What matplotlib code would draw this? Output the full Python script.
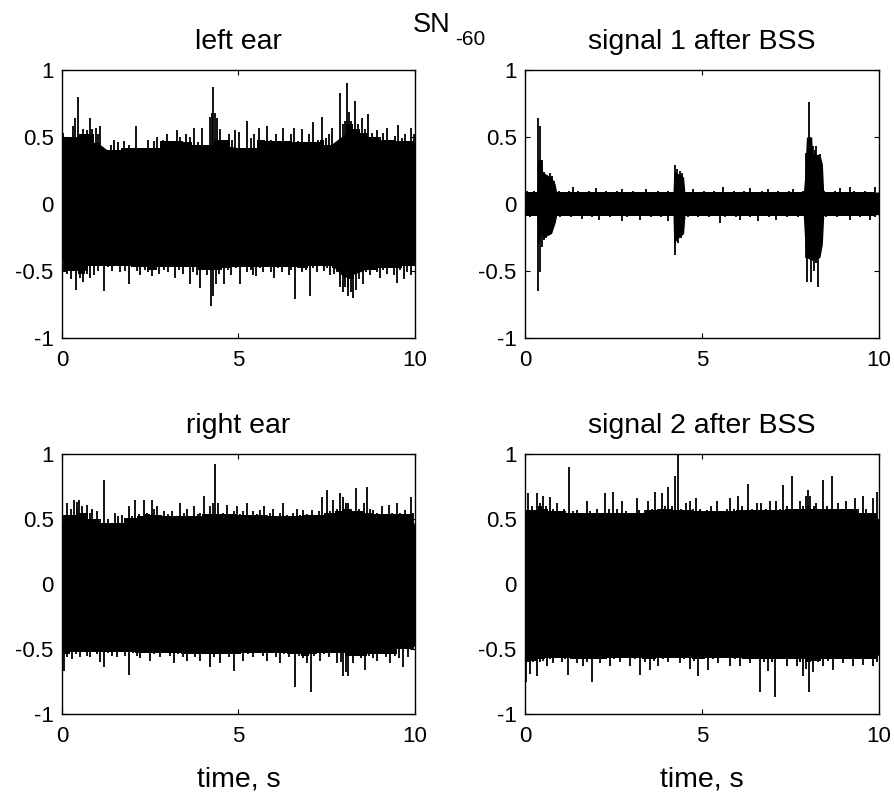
import matplotlib
matplotlib.use("Agg")
import matplotlib.pyplot as plt
import numpy as np

plt.rcParams["font.family"] = ["Liberation Sans", "DejaVu Sans"]
plt.rcParams["axes.unicode_minus"] = False

# envelope of the dense part of each signal, sampled every 0.5 s
core_t = np.arange(0, 10.01, 0.5)

# ---- left ear ----
left_hi = [0.44, 0.46, 0.46, 0.36, 0.38, 0.40, 0.42, 0.43, 0.42, 0.44, 0.42,
           0.42, 0.43, 0.43, 0.43, 0.42, 0.52, 0.52, 0.45, 0.45, 0.45]
left_lo = [-0.40, -0.45, -0.42, -0.40, -0.42, -0.42, -0.42, -0.43, -0.44, -0.45, -0.42,
           -0.42, -0.42, -0.42, -0.42, -0.42, -0.55, -0.50, -0.43, -0.44, -0.42]
left_up = [(0.02, 0.53), (0.2, 0.50), (0.3, 0.58), (0.38, 0.64), (0.44, 0.80), (0.52, 0.52),
           (0.6, 0.56), (0.7, 0.55), (0.78, 0.64), (0.85, 0.56), (0.95, 0.57), (1.02, 0.52),
           (1.08, 0.58), (1.25, 0.40), (1.4, 0.44), (1.46, 0.48), (1.6, 0.46), (1.75, 0.47),
           (1.9, 0.44), (2.1, 0.58), (2.3, 0.42), (2.45, 0.48), (2.6, 0.47), (2.7, 0.50),
           (2.85, 0.48), (2.97, 0.52), (3.1, 0.47), (3.25, 0.55), (3.35, 0.50), (3.5, 0.52),
           (3.62, 0.50), (3.73, 0.57), (3.85, 0.46), (3.98, 0.57), (4.1, 0.44), (4.18, 0.65),
           (4.24, 0.68), (4.27, 0.87), (4.33, 0.68), (4.4, 0.64), (4.48, 0.56), (4.6, 0.48),
           (4.72, 0.52), (4.82, 0.48), (4.9, 0.55), (5.02, 0.54), (5.1, 0.42), (5.24, 0.62),
           (5.35, 0.49), (5.45, 0.52), (5.57, 0.57), (5.68, 0.48), (5.8, 0.58), (5.92, 0.48),
           (6.05, 0.52), (6.15, 0.47), (6.27, 0.57), (6.4, 0.47), (6.48, 0.52), (6.56, 0.57),
           (6.68, 0.47), (6.79, 0.56), (6.9, 0.46), (7.0, 0.52), (7.12, 0.61), (7.25, 0.48),
           (7.36, 0.65), (7.48, 0.49), (7.55, 0.52), (7.64, 0.57), (7.78, 0.44), (7.88, 0.83),
           (7.95, 0.60), (8.02, 0.62), (8.07, 0.90), (8.14, 0.69), (8.2, 0.62), (8.3, 0.77),
           (8.38, 0.60), (8.49, 0.64), (8.58, 0.56), (8.68, 0.67), (8.78, 0.53), (8.92, 0.55),
           (9.02, 0.50), (9.1, 0.53), (9.2, 0.57), (9.32, 0.48), (9.42, 0.51), (9.53, 0.59),
           (9.62, 0.49), (9.72, 0.52), (9.8, 0.47), (9.9, 0.57), (9.97, 0.52)]
left_dn = [(0.05, -0.50), (0.15, -0.52), (0.25, -0.56), (0.4, -0.64), (0.5, -0.55), (0.6, -0.58),
           (0.7, -0.52), (0.8, -0.55), (0.92, -0.53), (1.02, -0.50), (1.1, -0.46), (1.18, -0.65),
           (1.3, -0.47), (1.42, -0.50), (1.55, -0.46), (1.65, -0.51), (1.78, -0.50), (1.9, -0.60),
           (2.02, -0.47), (2.12, -0.50), (2.22, -0.53), (2.35, -0.49), (2.45, -0.51), (2.55, -0.54),
           (2.65, -0.49), (2.75, -0.52), (2.88, -0.49), (3.0, -0.51), (3.1, -0.47), (3.2, -0.55),
           (3.32, -0.49), (3.42, -0.52), (3.52, -0.47), (3.63, -0.60), (3.72, -0.51), (3.82, -0.53),
           (3.9, -0.63), (4.02, -0.49), (4.12, -0.53), (4.22, -0.76), (4.28, -0.69), (4.35, -0.60),
           (4.45, -0.52), (4.6, -0.60), (4.7, -0.49), (4.8, -0.53), (4.92, -0.48), (5.05, -0.60),
           (5.15, -0.47), (5.25, -0.51), (5.35, -0.49), (5.42, -0.53), (5.5, -0.54), (5.6, -0.48),
           (5.7, -0.51), (5.82, -0.47), (5.92, -0.51), (6.0, -0.55), (6.12, -0.48), (6.22, -0.51),
           (6.32, -0.47), (6.42, -0.53), (6.5, -0.49), (6.6, -0.71), (6.7, -0.48), (6.8, -0.51),
           (6.9, -0.49), (7.03, -0.69), (7.12, -0.48), (7.22, -0.51), (7.3, -0.46), (7.42, -0.50),
           (7.5, -0.48), (7.6, -0.53), (7.7, -0.52), (7.8, -0.51), (7.88, -0.62), (7.95, -0.66),
           (8.02, -0.62), (8.1, -0.69), (8.18, -0.66), (8.25, -0.70), (8.32, -0.64), (8.42, -0.56),
           (8.54, -0.60), (8.62, -0.51), (8.72, -0.53), (8.82, -0.49), (8.92, -0.51), (9.0, -0.55),
           (9.1, -0.49), (9.2, -0.52), (9.3, -0.48), (9.4, -0.53), (9.48, -0.59), (9.58, -0.49),
           (9.68, -0.56), (9.78, -0.51), (9.88, -0.53), (9.97, -0.46)]

# ---- signal 1 after BSS (uneven sampling around the three bursts) ----
s1_t = [0, 0.34, 0.36, 0.47, 0.5, 0.6, 0.75, 0.85, 0.9, 2, 3, 4, 4.18, 4.2, 4.3,
        4.4, 4.48, 4.52, 5, 6, 7, 7.86, 7.9, 7.95, 8.1, 8.12, 8.33, 8.4, 8.44, 9, 10]
s1_hi = [0.08, 0.08, 0.33, 0.33, 0.24, 0.22, 0.20, 0.15, 0.08, 0.08, 0.08, 0.08, 0.08,
         0.24, 0.23, 0.22, 0.20, 0.08, 0.08, 0.08, 0.08, 0.08, 0.20, 0.50, 0.50, 0.37,
         0.37, 0.30, 0.08, 0.08, 0.09]
s1_lo = [-0.08, -0.08, -0.30, -0.21, -0.25, -0.24, -0.22, -0.14, -0.08, -0.08, -0.08, -0.08,
         -0.08, -0.30, -0.26, -0.24, -0.22, -0.08, -0.08, -0.08, -0.08, -0.08, -0.27, -0.40,
         -0.42, -0.42, -0.40, -0.30, -0.08, -0.08, -0.08]
s1_up = [(0.05, 0.10), (0.15, 0.09), (0.25, 0.10), (0.38, 0.64), (0.42, 0.58), (0.47, 0.33),
         (0.55, 0.24), (0.62, 0.22), (0.7, 0.23), (0.76, 0.21), (0.83, 0.17), (0.95, 0.10),
         (1.1, 0.09), (1.25, 0.10), (1.36, 0.13), (1.5, 0.10), (1.65, 0.09), (1.8, 0.10),
         (2.0, 0.12), (2.15, 0.09), (2.3, 0.10), (2.45, 0.09), (2.6, 0.10), (2.73, 0.11),
         (2.9, 0.09), (3.05, 0.10), (3.2, 0.09), (3.43, 0.11), (3.6, 0.09), (3.75, 0.10),
         (3.9, 0.09), (4.05, 0.10), (4.23, 0.29), (4.3, 0.26), (4.38, 0.25), (4.44, 0.23),
         (4.6, 0.09), (4.75, 0.11), (4.9, 0.09), (5.05, 0.10), (5.2, 0.09), (5.35, 0.10),
         (5.6, 0.13), (5.75, 0.09), (5.9, 0.10), (6.05, 0.09), (6.2, 0.10), (6.35, 0.12),
         (6.5, 0.09), (6.7, 0.10), (6.87, 0.11), (7.0, 0.09), (7.15, 0.10), (7.3, 0.09),
         (7.45, 0.10), (7.57, 0.11), (7.72, 0.09), (7.85, 0.10), (7.93, 0.38), (8.01, 0.76),
         (8.06, 0.50), (8.14, 0.43), (8.2, 0.40), (8.23, 0.43), (8.32, 0.37), (8.45, 0.10),
         (8.6, 0.09), (8.75, 0.10), (8.9, 0.12), (9.05, 0.09), (9.17, 0.13), (9.3, 0.10),
         (9.45, 0.09), (9.6, 0.10), (9.75, 0.09), (9.9, 0.13)]
s1_dn = [(0.05, -0.09), (0.15, -0.10), (0.25, -0.09), (0.38, -0.65), (0.42, -0.51), (0.47, -0.32),
         (0.55, -0.27), (0.6, -0.25), (0.68, -0.22), (0.75, -0.19), (0.85, -0.14), (1.0, -0.10),
         (1.15, -0.09), (1.3, -0.10), (1.45, -0.09), (1.6, -0.11), (1.75, -0.09), (1.9, -0.10),
         (2.1, -0.12), (2.25, -0.09), (2.4, -0.10), (2.55, -0.09), (2.73, -0.13), (2.88, -0.10),
         (3.05, -0.09), (3.25, -0.12), (3.4, -0.09), (3.55, -0.10), (3.7, -0.09), (3.85, -0.10),
         (4.05, -0.13), (4.23, -0.38), (4.33, -0.29), (4.42, -0.25), (4.6, -0.10), (4.75, -0.09),
         (4.9, -0.10), (5.05, -0.09), (5.2, -0.10), (5.35, -0.09), (5.5, -0.14), (5.65, -0.10),
         (5.8, -0.09), (5.95, -0.10), (6.07, -0.12), (6.2, -0.09), (6.35, -0.10), (6.58, -0.13),
         (6.75, -0.09), (6.9, -0.10), (7.1, -0.12), (7.25, -0.09), (7.4, -0.10), (7.55, -0.09),
         (7.7, -0.10), (7.85, -0.09), (7.93, -0.40), (7.98, -0.58), (8.07, -0.58), (8.15, -0.50),
         (8.23, -0.44), (8.27, -0.62), (8.37, -0.30), (8.5, -0.10), (8.65, -0.09), (8.8, -0.10),
         (8.95, -0.09), (9.17, -0.12), (9.3, -0.09), (9.45, -0.10), (9.6, -0.09), (9.74, -0.12),
         (9.88, -0.10)]

# ---- right ear ----
right_hi = [0.48, 0.50, 0.45, 0.42, 0.44, 0.45, 0.46, 0.45, 0.46, 0.47, 0.45,
            0.46, 0.45, 0.44, 0.45, 0.47, 0.50, 0.48, 0.45, 0.45, 0.47]
right_lo = [-0.50, -0.47, -0.46, -0.45, -0.46, -0.46, -0.47, -0.46, -0.47, -0.47, -0.46,
            -0.45, -0.46, -0.47, -0.47, -0.46, -0.50, -0.48, -0.46, -0.47, -0.48]
right_up = [(0.05, 0.53), (0.14, 0.62), (0.25, 0.58), (0.35, 0.65), (0.42, 0.63), (0.47, 0.65),
            (0.57, 0.60), (0.7, 0.61), (0.78, 0.55), (0.85, 0.58), (0.99, 0.56), (1.08, 0.50),
            (1.2, 0.80), (1.3, 0.50), (1.37, 0.47), (1.5, 0.55), (1.6, 0.52), (1.7, 0.53),
            (1.8, 0.51), (1.89, 0.60), (1.98, 0.52), (2.08, 0.65), (2.18, 0.54), (2.31, 0.65),
            (2.42, 0.55), (2.55, 0.65), (2.62, 0.58), (2.69, 0.60), (2.8, 0.53), (2.88, 0.56),
            (3.0, 0.54), (3.11, 0.56), (3.22, 0.52), (3.35, 0.62), (3.45, 0.55), (3.54, 0.58),
            (3.65, 0.52), (3.73, 0.60), (3.85, 0.54), (3.92, 0.55), (4.01, 0.68), (4.12, 0.54),
            (4.2, 0.60), (4.29, 0.62), (4.34, 0.92), (4.43, 0.62), (4.55, 0.55), (4.67, 0.61),
            (4.78, 0.54), (4.86, 0.56), (4.95, 0.60), (5.05, 0.54), (5.14, 0.56), (5.24, 0.62),
            (5.33, 0.53), (5.42, 0.56), (5.52, 0.54), (5.62, 0.57), (5.71, 0.60), (5.82, 0.53),
            (5.9, 0.55), (5.99, 0.58), (6.1, 0.52), (6.18, 0.55), (6.27, 0.62), (6.37, 0.53),
            (6.46, 0.52), (6.55, 0.55), (6.65, 0.58), (6.75, 0.53), (6.84, 0.57), (6.95, 0.54),
            (7.08, 0.57), (7.18, 0.53), (7.27, 0.56), (7.36, 0.67), (7.45, 0.55), (7.52, 0.72),
            (7.6, 0.56), (7.69, 0.65), (7.78, 0.58), (7.88, 0.70), (7.97, 0.67), (8.05, 0.62),
            (8.11, 0.62), (8.2, 0.58), (8.32, 0.74), (8.4, 0.58), (8.49, 0.56), (8.56, 0.62),
            (8.63, 0.75), (8.72, 0.58), (8.82, 0.57), (8.92, 0.55), (9.06, 0.60), (9.15, 0.54),
            (9.25, 0.61), (9.36, 0.55), (9.48, 0.62), (9.58, 0.55), (9.72, 0.57), (9.8, 0.54),
            (9.88, 0.67), (9.95, 0.55)]
right_dn = [(0.05, -0.67), (0.15, -0.56), (0.28, -0.58), (0.4, -0.54), (0.52, -0.56), (0.62, -0.52),
            (0.7, -0.55), (0.8, -0.56), (0.92, -0.52), (1.0, -0.54), (1.08, -0.60), (1.2, -0.64),
            (1.3, -0.53), (1.42, -0.55), (1.56, -0.56), (1.68, -0.52), (1.78, -0.55), (1.89, -0.70),
            (2.0, -0.53), (2.12, -0.55), (2.22, -0.57), (2.35, -0.53), (2.5, -0.59), (2.62, -0.54),
            (2.78, -0.56), (2.9, -0.53), (3.05, -0.55), (3.16, -0.61), (3.3, -0.54), (3.42, -0.56),
            (3.54, -0.59), (3.65, -0.54), (3.78, -0.56), (3.92, -0.59), (4.05, -0.54), (4.2, -0.64),
            (4.32, -0.56), (4.48, -0.61), (4.6, -0.54), (4.72, -0.56), (4.86, -0.67), (5.0, -0.54),
            (5.14, -0.59), (5.28, -0.54), (5.42, -0.56), (5.55, -0.53), (5.68, -0.55), (5.8, -0.59),
            (5.92, -0.53), (6.05, -0.56), (6.18, -0.61), (6.3, -0.54), (6.42, -0.56), (6.6, -0.79),
            (6.7, -0.55), (6.82, -0.57), (6.93, -0.61), (7.04, -0.83), (7.15, -0.55), (7.31, -0.59),
            (7.42, -0.54), (7.55, -0.56), (7.66, -0.53), (7.78, -0.61), (7.9, -0.60), (7.97, -0.71),
            (8.04, -0.68), (8.11, -0.71), (8.25, -0.61), (8.38, -0.55), (8.48, -0.57), (8.58, -0.66),
            (8.7, -0.55), (8.8, -0.57), (8.92, -0.59), (9.05, -0.54), (9.18, -0.56), (9.29, -0.61),
            (9.42, -0.55), (9.55, -0.57), (9.67, -0.64), (9.8, -0.56), (9.95, -0.50)]

# ---- signal 2 after BSS ----
s2_hi = [0.52, 0.52, 0.48, 0.48, 0.48, 0.48, 0.48, 0.50, 0.50, 0.48, 0.50,
         0.46, 0.48, 0.48, 0.50, 0.50, 0.55, 0.50, 0.48, 0.48, 0.50]
s2_lo = [-0.55, -0.50, -0.50, -0.52, -0.52, -0.50, -0.52, -0.50, -0.52, -0.50, -0.50,
         -0.52, -0.52, -0.50, -0.52, -0.52, -0.53, -0.52, -0.50, -0.52, -0.55]
s2_up = [(0.03, 0.57), (0.09, 0.70), (0.2, 0.60), (0.33, 0.70), (0.42, 0.62), (0.52, 0.68),
         (0.6, 0.60), (0.7, 0.67), (0.8, 0.58), (0.89, 0.62), (1.0, 0.56), (1.1, 0.58),
         (1.23, 0.90), (1.35, 0.56), (1.46, 0.57), (1.58, 0.55), (1.74, 0.64), (1.85, 0.56),
         (2.02, 0.58), (2.12, 0.55), (2.26, 0.70), (2.38, 0.58), (2.49, 0.71), (2.6, 0.58),
         (2.73, 0.64), (2.85, 0.56), (2.95, 0.55), (3.15, 0.66), (3.22, 0.57), (3.38, 0.57),
         (3.48, 0.64), (3.58, 0.58), (3.67, 0.71), (3.76, 0.58), (3.86, 0.70), (3.95, 0.60),
         (4.05, 0.75), (4.15, 0.60), (4.23, 0.83), (4.31, 1.0), (4.4, 0.58), (4.47, 0.57),
         (4.56, 0.62), (4.66, 0.64), (4.75, 0.58), (4.84, 0.66), (4.95, 0.58), (5.05, 0.56),
         (5.13, 0.57), (5.25, 0.60), (5.41, 0.64), (5.5, 0.56), (5.7, 0.58), (5.79, 0.66),
         (5.9, 0.58), (6.02, 0.68), (6.12, 0.60), (6.2, 0.57), (6.3, 0.77), (6.42, 0.58),
         (6.54, 0.62), (6.68, 0.62), (6.8, 0.58), (6.91, 0.64), (7.0, 0.57), (7.1, 0.64),
         (7.2, 0.58), (7.29, 0.76), (7.4, 0.60), (7.53, 0.83), (7.62, 0.58), (7.76, 0.64),
         (7.86, 0.60), (7.95, 0.68), (8.0, 0.72), (8.06, 0.68), (8.15, 0.60), (8.23, 0.62),
         (8.32, 0.58), (8.42, 0.80), (8.52, 0.60), (8.66, 0.83), (8.76, 0.58), (8.85, 0.62),
         (8.95, 0.58), (9.08, 0.64), (9.2, 0.58), (9.32, 0.66), (9.42, 0.58), (9.55, 0.68),
         (9.62, 0.58), (9.75, 0.55), (9.83, 0.66), (9.93, 0.71)]
s2_dn = [(0.03, -0.75), (0.14, -0.69), (0.22, -0.60), (0.33, -0.71), (0.42, -0.60), (0.52, -0.59),
         (0.62, -0.63), (0.7, -0.58), (0.8, -0.61), (0.92, -0.57), (1.05, -0.60), (1.12, -0.58),
         (1.22, -0.70), (1.35, -0.58), (1.46, -0.61), (1.55, -0.58), (1.65, -0.63), (1.75, -0.60),
         (1.88, -0.75), (2.0, -0.58), (2.12, -0.61), (2.25, -0.58), (2.4, -0.63), (2.52, -0.58),
         (2.68, -0.60), (2.8, -0.57), (2.96, -0.63), (3.1, -0.58), (3.24, -0.70), (3.38, -0.60),
         (3.53, -0.66), (3.65, -0.59), (3.76, -0.63), (3.9, -0.58), (4.05, -0.60), (4.2, -0.57),
         (4.37, -0.61), (4.5, -0.58), (4.66, -0.65), (4.78, -0.59), (4.89, -0.71), (5.0, -0.58),
         (5.17, -0.66), (5.3, -0.58), (5.46, -0.61), (5.6, -0.57), (5.79, -0.63), (5.92, -0.58),
         (6.07, -0.63), (6.2, -0.58), (6.35, -0.61), (6.5, -0.58), (6.63, -0.83), (6.75, -0.60),
         (6.87, -0.67), (6.97, -0.60), (7.06, -0.87), (7.2, -0.58), (7.39, -0.63), (7.5, -0.58),
         (7.67, -0.63), (7.78, -0.60), (7.86, -0.71), (7.95, -0.65), (8.03, -0.83), (8.14, -0.68),
         (8.28, -0.60), (8.42, -0.63), (8.55, -0.59), (8.7, -0.66), (8.85, -0.58), (8.98, -0.61),
         (9.12, -0.58), (9.27, -0.63), (9.4, -0.58), (9.55, -0.62), (9.7, -0.58), (9.83, -0.63),
         (9.93, -0.60)]

yticks = [-1, -0.5, 0, 0.5, 1]
ytick_labels = ["-1", "-0.5", "0", "0.5", "1"]


def shoulder(vals, k=3):
    # smallest magnitude among each peak and its k neighbours on both sides
    v = np.asarray(vals)
    padded = np.abs(np.r_[[v[0]] * k, v, [v[-1]] * k])
    win = np.vstack([padded[i:i + len(v)] for i in range(2 * k + 1)])
    return np.sign(v) * win.min(axis=0)


def draw_signal(ax, t, hi, lo, up, dn, title):
    ax.fill_between(t, lo, hi, color="black", lw=0)
    ut, uv = zip(*up)
    dt, dv = zip(*dn)
    ax.fill_between(ut, 0, shoulder(uv), step="mid", color="black", lw=0)
    ax.fill_between(dt, 0, shoulder(dv), step="mid", color="black", lw=0)
    ax.vlines(ut, 0, uv, color="black", lw=1.3)
    ax.vlines(dt, 0, dv, color="black", lw=1.3)
    ax.set_xlim(0, 10)
    ax.set_ylim(-1, 1)
    ax.set_xticks([0, 5, 10])
    ax.set_yticks(yticks)
    ax.set_yticklabels(ytick_labels)
    ax.tick_params(direction="in", top=True, right=True, length=3.5,
                   labelsize=16, colors="black")
    ax.tick_params(axis="x", pad=9)
    ax.tick_params(axis="y", pad=6)
    for sp in ax.spines.values():
        sp.set_linewidth(1.0)
    ax.set_title(title, fontsize=20.5, pad=15)


fig = plt.figure(figsize=(8.95, 7.97), dpi=100)
W, H = 895.0, 797.0

ax1 = fig.add_axes([62 / W, 1 - 338 / H, 353 / W, 268 / H])
ax2 = fig.add_axes([525 / W, 1 - 338 / H, 354 / W, 268 / H])
ax3 = fig.add_axes([62 / W, 1 - 714 / H, 353 / W, 260 / H])
ax4 = fig.add_axes([525 / W, 1 - 714 / H, 354 / W, 260 / H])

draw_signal(ax1, core_t, left_hi, left_lo, left_up, left_dn, "left ear")
draw_signal(ax2, s1_t, s1_hi, s1_lo, s1_up, s1_dn, "signal 1 after BSS")
draw_signal(ax3, core_t, right_hi, right_lo, right_up, right_dn, "right ear")
draw_signal(ax4, core_t, s2_hi, s2_lo, s2_up, s2_dn, "signal 2 after BSS")

for ax in (ax3, ax4):
    ax.set_xlabel("time, s", fontsize=20.5, labelpad=14)

fig.text(413 / W, 1 - 32 / H, "SN", fontsize=19.5, va="baseline", ha="left")
fig.text(455 / W, 1 - 45 / H, "-60", fontsize=15, va="baseline", ha="left")

fig.savefig("out.png", dpi=100, facecolor="white")
